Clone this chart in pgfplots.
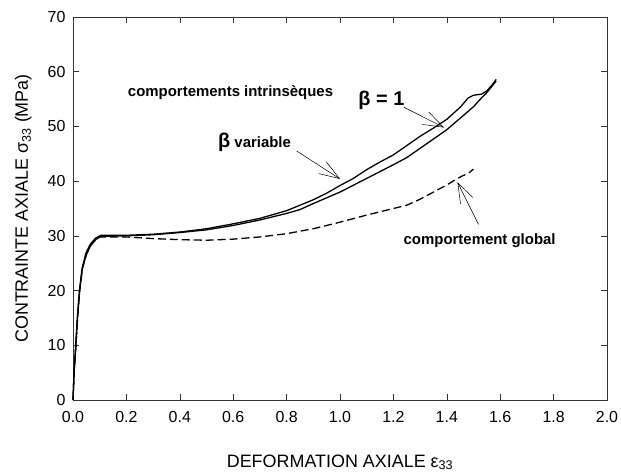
\documentclass[border=0pt]{standalone}
\usepackage{fontspec}
\setmainfont{Liberation Sans}
\usepackage{pgfplots}
\pgfplotsset{compat=1.18}
\usetikzlibrary{arrows.meta}
\begin{document}
\begin{tikzpicture}
\begin{axis}[
  at={(0,0)}, anchor=south west,
  width=534bp, height=383bp, scale only axis,
  xmin=0, xmax=2, ymin=0, ymax=70,
  xtick={0,0.2,...,2.01}, ytick={0,10,...,70},
  tick align=inside, xtick pos=both, ytick pos=both,
  major tick length=6bp,
  axis line style={line width=0.6pt, black!80},
  tick style={line width=0.6pt, black!80},
  /pgf/number format/assume math mode=true,
  xticklabel style={/pgf/number format/fixed, /pgf/number format/fixed zerofill, /pgf/number format/precision=1, font=\fontsize{16}{18}\selectfont, yshift=-8bp},
  yticklabel style={font=\fontsize{16}{18}\selectfont, xshift=-4bp},
  scaled x ticks=false,
  xlabel={DEFORMATION AXIALE ε\textsubscript{33}},
  ylabel={CONTRAINTE AXIALE σ\textsubscript{33} (MPa)},
  xlabel style={font=\fontsize{18}{20}\selectfont, at={(axis description cs:0.5,0)}, anchor=base, yshift=-67bp},
  ylabel style={font=\fontsize{18}{20}\selectfont, at={(axis description cs:-0.0843,0.5)}, anchor=base},
  clip=false,
]
\addplot[black, line width=1.3pt] coordinates {
(0,0) (0.004,5) (0.010,10) (0.016,15) (0.024,20) (0.034,24) (0.048,26.8) (0.065,28.5) (0.085,29.6) (0.105,30.1)
(0.2,30.1) (0.3,30.3) (0.4,30.7) (0.5,31.3) (0.6,32.2) (0.7,33.2) (0.8,34.6) (0.85,35.6) (0.9,36.6) (0.95,37.8)
(1.0,39.2) (1.05,40.5) (1.1,42.1) (1.15,43.5) (1.2,44.8) (1.25,46.5) (1.3,48.2) (1.35,49.7) (1.4,51.3) (1.45,53.5)
(1.48,55.2) (1.50,55.7) (1.53,55.9) (1.55,56.5) (1.57,57.6) (1.585,58.6)
};
\addplot[black, line width=1.3pt] coordinates {
(0,0) (0.004,5) (0.011,10) (0.017,15) (0.025,20) (0.035,24) (0.05,26.6) (0.067,28.3) (0.087,29.4) (0.105,29.9)
(0.2,30.0) (0.3,30.2) (0.4,30.6) (0.5,31.1) (0.6,31.9) (0.7,32.9) (0.8,34.1) (0.85,34.8) (0.9,35.9)
(1.0,38.0) (1.1,40.5) (1.2,43.0) (1.25,44.3) (1.3,46.0) (1.35,47.7) (1.4,49.4) (1.45,51.5) (1.5,53.6)
(1.53,55.2) (1.55,56.2) (1.57,57.4) (1.585,58.3)
};
\addplot[black, line width=1.3pt, dash pattern=on 8pt off 4pt] coordinates {
(0,0) (0.004,5) (0.011,10) (0.017,15) (0.025,20) (0.035,24) (0.05,26.6) (0.067,28.3) (0.087,29.4) (0.1,29.8)
(0.15,29.8) (0.2,29.8) (0.3,29.5) (0.4,29.3) (0.5,29.2) (0.6,29.4) (0.7,29.8) (0.8,30.4) (0.9,31.3)
(1.0,32.5) (1.1,33.8) (1.2,35.0) (1.25,35.6) (1.3,36.7) (1.35,38.0) (1.4,39.3) (1.43,40.2) (1.46,41.0)
(1.48,41.4) (1.50,42.2)
};
\draw[-{Straight Barb[length=20bp,width=14bp]}, line width=0.5pt] (axis cs:1.239,53.5) -- (axis cs:1.39,49.8);
\draw[-{Straight Barb[length=20bp,width=14bp]}, line width=0.5pt] (axis cs:0.838,45.5) -- (axis cs:1.0,40.4);
\draw[-{Straight Barb[length=20bp,width=14bp]}, line width=0.5pt] (axis cs:1.519,32.1) -- (axis cs:1.44,39.8);
\node[font=\fontsize{15}{17}\selectfont\bfseries] at (axis cs:0.59,56.2) {comportements intrinsèques};
\node[font=\fontsize{20}{22}\selectfont\bfseries] at (axis cs:1.155,54.8) {β = 1};
\node[font=\fontsize{15}{17}\selectfont\bfseries] at (axis cs:0.68,47.1) {{\fontsize{20}{22}\selectfont β} variable};
\node[font=\fontsize{15}{17}\selectfont\bfseries] at (axis cs:1.523,29.1) {comportement global};
\end{axis}
\pgfresetboundingbox
\path[use as bounding box] (-73bp,-73bp) rectangle (548bp,400bp);
\end{tikzpicture}
\end{document}
